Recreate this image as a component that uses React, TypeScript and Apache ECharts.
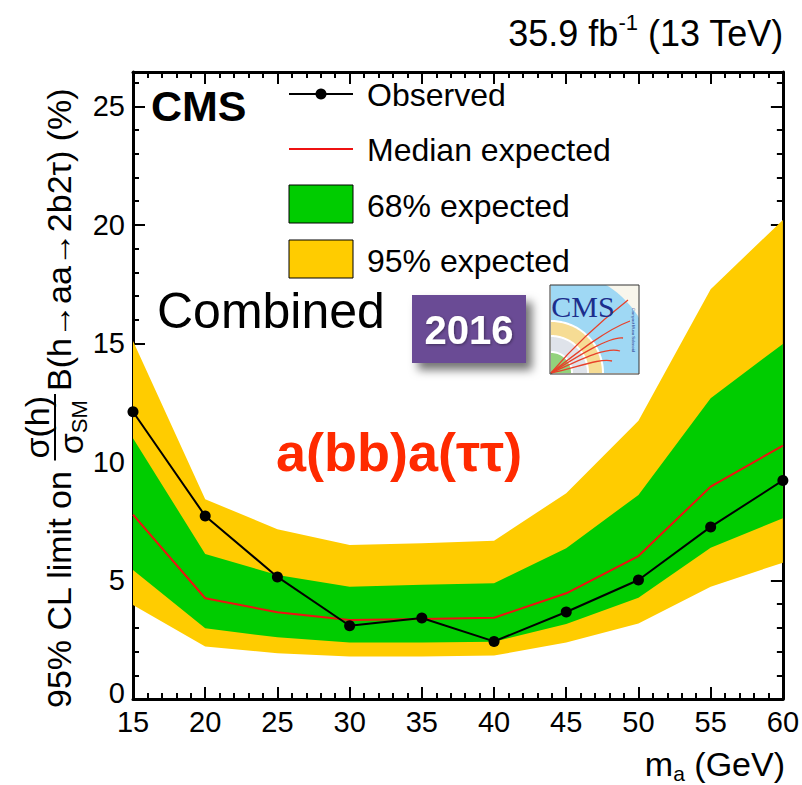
import React, { useEffect, useRef } from 'react';
import * as echarts from 'echarts';

const FONT = "'Liberation Sans', Arial, Helvetica, sans-serif";

// ---- data ----
const massPoints = [15, 20, 25, 30, 35, 40, 45, 50, 55, 60];
const observed = [12.12, 7.72, 5.15, 3.09, 3.42, 2.43, 3.67, 5.02, 7.26, 9.22];
const medianExpected = [7.78, 4.25, 3.66, 3.33, 3.37, 3.43, 4.46, 6.03, 8.96, 10.69];
const band68Low = [5.44, 2.98, 2.6, 2.38, 2.38, 2.42, 3.16, 4.27, 6.38, 7.62];
const band68High = [11.0, 6.12, 5.23, 4.74, 4.82, 4.88, 6.36, 8.61, 12.69, 14.98];
const band95Low = [3.97, 2.21, 1.93, 1.79, 1.79, 1.83, 2.38, 3.19, 4.74, 5.75];
const band95High = [15.1, 8.43, 7.16, 6.5, 6.57, 6.68, 8.68, 11.74, 17.29, 20.21];

const X_MIN = 15;
const X_MAX = 60;
const Y_MIN = 0;
const Y_MAX = 26.45;

function textWidth(text: string, size: number, weight = 'normal') {
  const c = document.createElement('canvas').getContext('2d') as CanvasRenderingContext2D;
  c.font = `${weight} ${size}px 'Liberation Sans'`;
  return c.measureText(text).width;
}

function txt(x: number, y: number, text: string, size: number, opts: any = {}) {
  const align = opts.align || 'left';
  const va = opts.va || 'middle';
  return {
    type: 'text',
    x,
    y,
    z: opts.z || 10,
    rotation: opts.rotation || 0,
    style: {
      text,
      fill: opts.color || '#000',
      fontSize: size,
      fontFamily: opts.family || FONT,
      fontWeight: opts.weight || 'normal',
      align,
      textAlign: align,
      verticalAlign: va,
      textVerticalAlign: va,
      textShadowColor: opts.shadowColor,
      textShadowBlur: opts.shadowBlur,
      textShadowOffsetX: opts.shadowX,
      textShadowOffsetY: opts.shadowY,
    },
  };
}

function ringPoints(cx: number, cy: number, r: number, L: number, T: number, R: number, B: number) {
  const pts: number[][] = [];
  const n = 48;
  for (let i = 0; i <= n; i++) {
    const a = -Math.PI / 2 + (Math.PI / 2) * (i / n);
    const x = cx + r * Math.cos(a);
    const y = cy + r * Math.sin(a);
    pts.push([Math.max(L, Math.min(x, R)), Math.min(B, Math.max(y, T))]);
  }
  pts.push([cx, cy]);
  return pts;
}

function buildYTitle() {
  const fs = 34;
  const p1 = '95% CL limit on ';
  const w1 = textWidth(p1, fs);
  const wn = textWidth('σ(h)', fs);
  const ws = textWidth('σ', fs);
  const wsm = textWidth('SM', 22);
  const wd = ws + wsm;
  const fw = Math.max(wn, wd) + 4;
  const x3 = w1 + fw + 3;
  const fy = -4;
  return {
    type: 'group',
    x: 59,
    y: 708,
    rotation: Math.PI / 2,
    children: [
      txt(0, 0, p1, fs),
      txt(w1 + fw / 2, fy - 18, 'σ(h)', fs, { align: 'center' }),
      {
        type: 'line',
        shape: { x1: w1, y1: fy, x2: w1 + fw, y2: fy },
        style: { stroke: '#000', lineWidth: 2 },
      },
      txt(w1 + (fw - wd) / 2, fy + 16, 'σ', fs),
      txt(w1 + (fw - wd) / 2 + ws, fy + 24, 'SM', 22),
      txt(x3, 0, 'B(h→aa→2b2τ) (%)', fs),
    ],
  };
}

function buildTopRight() {
  const fs = 36;
  const a = '35.9 fb';
  const s = '-1';
  const b = ' (13 TeV)';
  const wa = textWidth(a, fs);
  const wsup = textWidth(s, 22);
  const wb = textWidth(b, fs);
  const right = 784;
  const x0 = right - (wa + wsup + wb);
  return [
    txt(x0, 33, a, fs),
    txt(x0 + wa, 22, s, 22),
    txt(x0 + wa + wsup, 33, b, fs),
  ];
}

function buildXTitle() {
  const fs = 34;
  const wm = textWidth('m', fs);
  const wa = textWidth('a', 21);
  const wr = textWidth(' (GeV)', fs);
  const right = 785;
  const x0 = right - (wm + wa + wr);
  return [
    txt(x0, 764, 'm', fs),
    txt(x0 + wm, 773, 'a', 21),
    txt(x0 + wm + wa, 764, ' (GeV)', fs),
  ];
}

function buildLogo() {
  const L = 550, T = 285, R = 639, B = 374;
  const cx = 551, cy = 373;
  const els: any[] = [];
  els.push({ type: 'rect', shape: { x: L, y: T, width: R - L, height: B - T }, style: { fill: '#f8f6ec' }, z: 5 });
  const rings: [number, string][] = [
    [104, '#9fd8f4'],
    [53, '#ffffff'],
    [51, '#f6dc94'],
    [38, '#ffffff'],
    [36, '#dfe3ea'],
    [22, '#ffffff'],
    [20, '#93d27c'],
  ];
  rings.forEach(([r, c]) => {
    els.push({ type: 'polygon', shape: { points: ringPoints(cx, cy, r, L, T, R, B) }, style: { fill: c }, z: 5 });
  });
  const curves = [
    [628, 300, 572, 348, 600, 322],
    [630, 321, 578, 352, 606, 330],
    [623, 338, 578, 356, 610, 336],
    [620, 351, 578, 361, 606, 346],
    [612, 361, 578, 367, 600, 358],
  ];
  curves.forEach(([x2, y2, c1x, c1y, c2x, c2y]) => {
    els.push({
      type: 'bezierCurve',
      shape: { x1: cx, y1: cy, x2, y2, cpx1: c1x, cpy1: c1y, cpx2: c2x, cpy2: c2y },
      style: { stroke: '#e8402a', lineWidth: 1.3, fill: null },
      z: 6,
    });
  });
  els.push(txt(583, 306, 'CMS', 30, { align: 'center', family: "'Liberation Serif', serif", color: '#1c2e8c', z: 7 }));
  els.push(txt(633, 330, 'Compact Muon Solenoid', 4, { align: 'center', rotation: -Math.PI / 2, color: '#1c2e8c', z: 7 }));
  els.push({ type: 'rect', shape: { x: L, y: T, width: R - L, height: B - T }, style: { fill: 'none', stroke: '#333', lineWidth: 1 }, z: 8 });
  return els;
}

function bandSeries(name: string, hi: number[], lo: number[], color: string) {
  return {
    type: 'custom',
    name,
    silent: true,
    clip: true,
    data: massPoints.map((x, i) => [x, hi[i], lo[i]]),
    encode: { x: 0, y: [1, 2] },
    renderItem: (params: any, api: any) => {
      if (params.dataIndex !== 0) return null;
      const pts: number[][] = [];
      for (let i = 0; i < massPoints.length; i++) pts.push(api.coord([massPoints[i], hi[i]]));
      for (let i = massPoints.length - 1; i >= 0; i--) pts.push(api.coord([massPoints[i], lo[i]]));
      return { type: 'polygon', shape: { points: pts }, style: { fill: color } };
    },
  };
}

function xAxisDef(position: 'bottom' | 'top', labels: boolean) {
  return {
    type: 'value',
    min: X_MIN,
    max: X_MAX,
    interval: 5,
    position,
    axisLine: { show: true, onZero: false, lineStyle: { color: '#000', width: 3 } },
    axisTick: { show: true, inside: true, length: 12, lineStyle: { color: '#000', width: 2 } },
    minorTick: { show: true, splitNumber: 5, length: 6, lineStyle: { color: '#000', width: 2 } },
    splitLine: { show: false },
    axisLabel: { show: labels, fontSize: 29, color: '#000', fontFamily: FONT, margin: 8 },
  };
}

function yAxisDef(position: 'left' | 'right', major: boolean, labels: boolean) {
  return {
    type: 'value',
    min: Y_MIN,
    max: Y_MAX,
    interval: major ? 5 : 1,
    position,
    axisLine: { show: major, onZero: false, lineStyle: { color: '#000', width: 3 } },
    axisTick: { show: true, inside: true, length: major ? 12 : 6, lineStyle: { color: '#000', width: 2 } },
    splitLine: { show: false },
    axisLabel: {
      show: labels,
      fontSize: 29,
      color: '#000',
      fontFamily: FONT,
      margin: 8,
      showMaxLabel: false,
      formatter: (v: number) => (v === 0 ? '{z|0}' : String(v)),
      rich: { z: { fontSize: 29, fontFamily: FONT, color: '#000', padding: [0, 0, 12, 0] } },
    },
  };
}

export default function App() {
  const ref = useRef<HTMLDivElement>(null);
  useEffect(() => {
    if (!ref.current) return;
    const chart = echarts.init(ref.current, null, { renderer: 'svg' });
    const legend: any[] = [
      { type: 'line', shape: { x1: 289, y1: 94, x2: 353, y2: 94 }, style: { stroke: '#000', lineWidth: 2 }, z: 10 },
      { type: 'circle', shape: { cx: 321, cy: 94, r: 5.5 }, style: { fill: '#000' }, z: 10 },
      txt(367, 95, 'Observed', 32),
      { type: 'line', shape: { x1: 289, y1: 149, x2: 353, y2: 149 }, style: { stroke: '#ee1111', lineWidth: 2 }, z: 10 },
      txt(367, 150, 'Median expected', 32),
      { type: 'rect', shape: { x: 289, y: 185, width: 64, height: 38 }, style: { fill: '#00cc00', stroke: '#000', lineWidth: 1 }, z: 10 },
      txt(367, 206, '68% expected', 32),
      { type: 'rect', shape: { x: 289, y: 240, width: 64, height: 38 }, style: { fill: '#ffcc00', stroke: '#000', lineWidth: 1 }, z: 10 },
      txt(367, 261, '95% expected', 32),
    ];
    const option: any = {
      animation: false,
      grid: { left: 133, right: 16, top: 72, bottom: 86, containLabel: false },
      xAxis: [xAxisDef('bottom', true), xAxisDef('top', false)],
      yAxis: [
        yAxisDef('left', true, true),
        yAxisDef('right', true, false),
        yAxisDef('left', false, false),
        yAxisDef('right', false, false),
      ],
      series: [
        bandSeries('95% expected', band95High, band95Low, '#ffcc00'),
        bandSeries('68% expected', band68High, band68Low, '#00cc00'),
        {
          type: 'line',
          name: 'Median expected',
          data: massPoints.map((x, i) => [x, medianExpected[i]]),
          symbol: 'none',
          lineStyle: { color: '#ee1111', width: 2 },
          itemStyle: { color: '#ee1111' },
          silent: true,
        },
        {
          type: 'line',
          name: 'Observed',
          data: massPoints.map((x, i) => [x, observed[i]]),
          symbol: 'circle',
          symbolSize: 11,
          lineStyle: { color: '#000', width: 2 },
          itemStyle: { color: '#000' },
          silent: true,
        },
      ],
      graphic: [
        buildYTitle(),
        ...buildTopRight(),
        ...buildXTitle(),
        txt(151, 106, 'CMS', 43, { weight: 'bold' }),
        ...legend,
        txt(157, 311, 'Combined', 50),
        {
          type: 'rect',
          shape: { x: 412, y: 295, width: 114, height: 68 },
          style: { fill: '#6b4b95', shadowBlur: 10, shadowOffsetX: 6, shadowOffsetY: 7, shadowColor: 'rgba(0,0,0,0.55)' },
          z: 5,
        },
        txt(469, 330, '2016', 40, { weight: 'bold', color: '#ffffff', align: 'center', z: 6, shadowColor: 'rgba(0,0,0,0.4)', shadowBlur: 3, shadowX: 1, shadowY: 1 }),
        ...buildLogo(),
        txt(276, 452, 'a(bb)a(ττ)', 54, { weight: 'bold', color: '#ff2a00' }),
      ],
    };
    chart.setOption(option);
    return () => chart.dispose();
  }, []);
  return <div ref={ref} style={{ position: 'absolute', left: 0, top: 0, width: 802, height: 785 }} />;
}
